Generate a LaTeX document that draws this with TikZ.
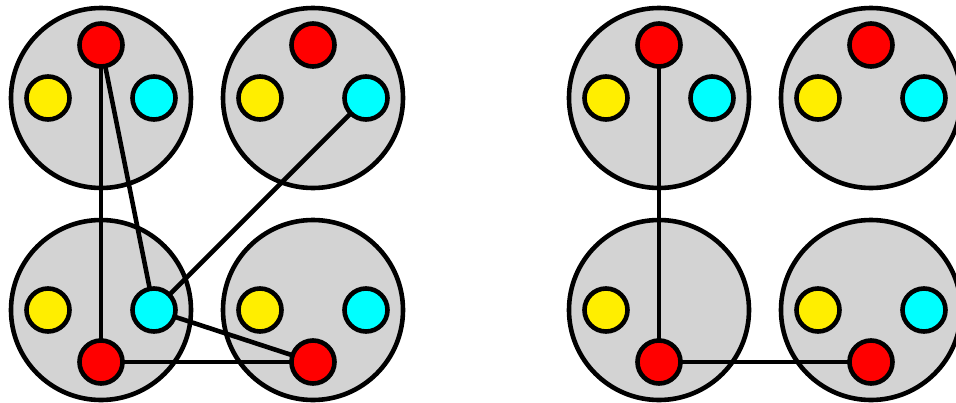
\documentclass[tikz,border=0pt]{standalone}
\definecolor{bigfill}{HTML}{D3D3D3}
\definecolor{yel}{HTML}{FFEE00}
\definecolor{cya}{HTML}{00FFFF}
\definecolor{rd}{HTML}{FF0000}
\begin{document}
\begin{tikzpicture}[x=1pt,y=-1pt,
  big/.style={circle,draw=black,line width=4.6pt,fill=bigfill,minimum size=180pt,inner sep=0pt},
  dot/.style={circle,draw=black,line width=4.6pt,minimum size=43pt,inner sep=0pt},
  ydot/.style={dot,fill=yel},
  cdot/.style={dot,fill=cya},
  rdot/.style={dot,fill=rd},
  link/.style={line width=4.6pt}]
\useasboundingbox (0,0) rectangle (956,402);
\clip (0,0) rectangle (956,402);
% big circles
\foreach \n/\x/\y in {A/101/98,B/313/98,C/101/310,D/313/310,E/659/98,F/871/98,G/659/310,H/871/310}
  \node[big] (\n) at (\x,\y) {};
% small circle positions (top groups: red on top; bottom groups: red at bottom)
\foreach \n/\x in {A/101,B/313,E/659,F/871}{
  \coordinate (\n r) at (\x,45);
  \coordinate (\n y) at (\x-53,98);
  \coordinate (\n c) at (\x+53,98);
}
\foreach \n/\x in {C/101,D/313,G/659,H/871}{
  \coordinate (\n r) at (\x,362);
  \coordinate (\n y) at (\x-53,310);
  \coordinate (\n c) at (\x+53,310);
}
% connectors
\draw[link] (Ar) -- (Cr);
\draw[link] (Ar) -- (Cc);
\draw[link] (Bc) -- (Cc);
\draw[link] (Cc) -- (Dr);
\draw[link] (Cr) -- (Dr);
\draw[link] (Er) -- (Gr);
\draw[link] (Gr) -- (Hr);
% small circles
\foreach \n in {A,B,C,D,E,F,G,H}{
  \node[rdot] (\n R) at (\n r) {};
  \node[ydot] (\n Y) at (\n y) {};
}
\foreach \n in {A,B,C,D,E,F,H}{
  \node[cdot] (\n C) at (\n c) {};
}
\end{tikzpicture}
\end{document}
